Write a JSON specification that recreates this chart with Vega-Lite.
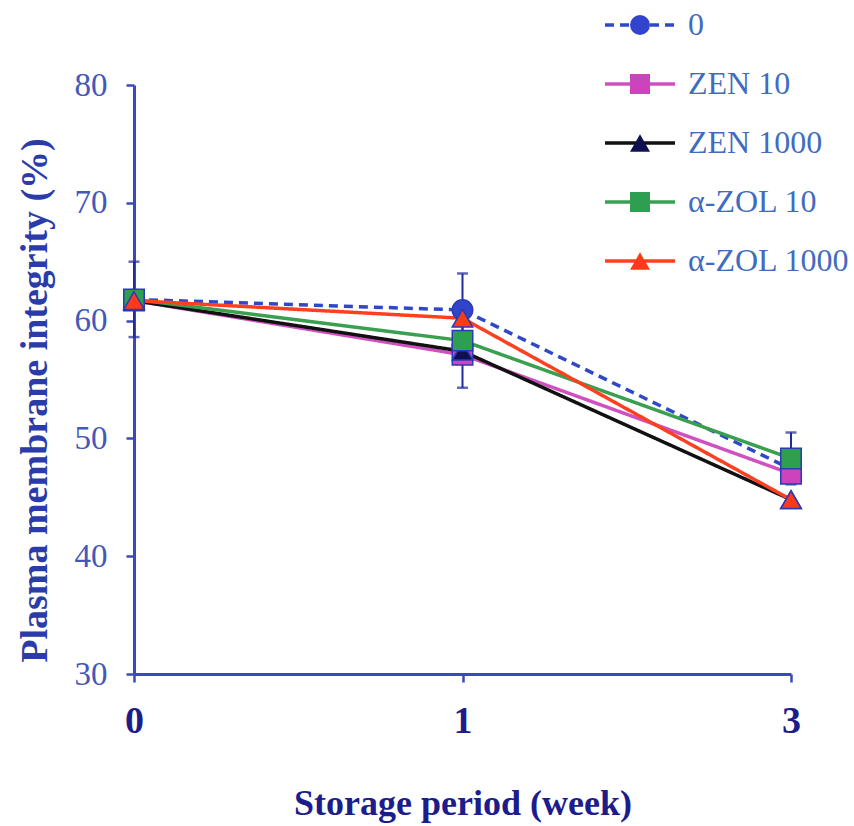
{
  "$schema": "https://vega.github.io/schema/vega-lite/v6.json",
  "width": 657,
  "height": 589,
  "autosize": {"type": "none"},
  "padding": {"left": 134, "top": 85, "right": 63, "bottom": 152},
  "background": "white",
  "config": {"view": {"stroke": null}, "font": "Liberation Serif"},
  "data": {
    "values": [
      {"group": "0", "week": "0", "value": 61.8, "lo": 58.6, "hi": 65.0},
      {"group": "0", "week": "1", "value": 60.9, "lo": 57.8, "hi": 64.0},
      {"group": "0", "week": "3", "value": 47.4, "lo": null, "hi": null},
      {"group": "ZEN 10", "week": "0", "value": 61.7, "lo": null, "hi": null},
      {"group": "ZEN 10", "week": "1", "value": 57.1, "lo": null, "hi": null},
      {"group": "ZEN 10", "week": "3", "value": 47.0, "lo": null, "hi": null},
      {"group": "ZEN 1000", "week": "0", "value": 61.7, "lo": null, "hi": null},
      {"group": "ZEN 1000", "week": "1", "value": 57.4, "lo": 54.3, "hi": 60.5},
      {"group": "ZEN 1000", "week": "3", "value": 44.8, "lo": null, "hi": null},
      {"group": "α-ZOL 10", "week": "0", "value": 61.8, "lo": null, "hi": null},
      {"group": "α-ZOL 10", "week": "1", "value": 58.3, "lo": null, "hi": null},
      {"group": "α-ZOL 10", "week": "3", "value": 48.3, "lo": 46.1, "hi": 50.5},
      {"group": "α-ZOL 1000", "week": "0", "value": 61.7, "lo": null, "hi": null},
      {"group": "α-ZOL 1000", "week": "1", "value": 60.2, "lo": null, "hi": null},
      {"group": "α-ZOL 1000", "week": "3", "value": 44.8, "lo": null, "hi": null}
    ]
  },
  "encoding": {
    "x": {
      "field": "week",
      "type": "ordinal",
      "sort": ["0", "1", "3"],
      "scale": {"type": "point", "padding": 0},
      "axis": {
        "title": "Storage period (week)",
        "labelFont": "Liberation Serif",
        "labelFontSize": 38,
        "labelFontWeight": "bold",
        "labelColor": "#1c1c8c",
        "labelAngle": 0,
        "labelPadding": 20,
        "tickSize": 8,
        "tickWidth": 2.5,
        "tickColor": "#3a48c0",
        "domainColor": "#3a48c0",
        "domainWidth": 3,
        "titleFont": "Liberation Serif",
        "titleFontSize": 36,
        "titleFontWeight": "bold",
        "titleColor": "#1c1c8c",
        "titlePadding": 46,
        "grid": false
      }
    }
  },
  "layer": [
    {
      "mark": {"type": "line"},
      "encoding": {
        "y": {
          "field": "value",
          "type": "quantitative",
          "scale": {"domain": [30, 80], "nice": false, "zero": false},
          "axis": {
            "title": "Plasma membrane integrity (%)",
            "values": [30, 40, 50, 60, 70, 80],
            "labelFont": "Liberation Serif",
            "labelFontSize": 33,
            "labelColor": "#4358b8",
            "labelPadding": 19,
            "tickSize": 8,
            "tickWidth": 2.5,
            "tickColor": "#3a48c0",
            "domainColor": "#3a48c0",
            "domainWidth": 3,
            "titleFont": "Liberation Serif",
            "titleFontSize": 38,
            "titleFontWeight": "bold",
            "titleColor": "#2b3caa",
            "titlePadding": 20,
            "titleY": 315,
            "grid": false
          }
        },
        "color": {
          "field": "group",
          "type": "nominal",
          "scale": {
            "domain": ["0", "ZEN 10", "ZEN 1000", "α-ZOL 10", "α-ZOL 1000"],
            "range": ["#3048c8", "#d050c0", "#111111", "#3aa050", "#ff4020"]
          },
          "legend": {
            "orient": "none", "legendX": 490, "legendY": -76, "title": null,
            "symbolType": "M-3.5,0H3.5", "symbolSize": 400, "symbolStrokeWidth": 4.5,
            "labelFont": "Liberation Serif", "labelFontSize": 32, "labelColor": "#3f6cc0",
            "labelOffset": 32, "rowPadding": 27, "labelLimit": 300
          }
        },
        "strokeDash": {
          "field": "group",
          "type": "nominal",
          "scale": {
            "domain": ["0", "ZEN 10", "ZEN 1000", "α-ZOL 10", "α-ZOL 1000"],
            "range": [[9, 6], [1, 0], [1, 0], [1, 0], [1, 0]]
          },
          "legend": {
            "orient": "none", "legendX": 490, "legendY": -76, "title": null,
            "symbolType": "M-3.5,0H3.5", "symbolSize": 400, "symbolStrokeWidth": 4.5,
            "labelFont": "Liberation Serif", "labelFontSize": 32, "labelColor": "#3f6cc0",
            "labelOffset": 32, "rowPadding": 27, "labelLimit": 300
          }
        },
        "strokeWidth": {
          "field": "group",
          "type": "ordinal",
          "scale": {
            "domain": ["0", "ZEN 10", "ZEN 1000", "α-ZOL 10", "α-ZOL 1000"],
            "range": [3.5, 3.5, 5, 3.5, 3.5]
          },
          "legend": null
        }
      }
    },
    {
      "transform": [{"filter": "isValid(datum.hi)"}],
      "mark": {"type": "rule", "color": "#1f2a9c", "strokeWidth": 2},
      "encoding": {
        "y": {"field": "lo", "type": "quantitative"},
        "y2": {"field": "hi"}
      }
    },
    {
      "transform": [{"filter": "isValid(datum.hi)"}],
      "mark": {"type": "tick", "orient": "horizontal", "size": 11, "thickness": 2.5, "color": "#1f2a9c"},
      "encoding": {"y": {"field": "hi", "type": "quantitative"}}
    },
    {
      "transform": [{"filter": "isValid(datum.lo)"}],
      "mark": {"type": "tick", "orient": "horizontal", "size": 11, "thickness": 2.5, "color": "#1f2a9c"},
      "encoding": {"y": {"field": "lo", "type": "quantitative"}}
    },
    {
      "mark": {"type": "point", "filled": true, "size": 420, "stroke": "#2a3ab5", "strokeWidth": 1.5, "opacity": 1},
      "encoding": {
        "y": {"field": "value", "type": "quantitative"},
        "shape": {
          "field": "group",
          "type": "nominal",
          "scale": {"range": ["circle", "square", "triangle-up", "square", "triangle-up"]},
          "legend": {
            "orient": "none", "legendX": 490, "legendY": -76, "title": null,
            "symbolSize": 400, "symbolStrokeColor": "#2a3ab5", "symbolStrokeWidth": 1.5,
            "labelFont": "Liberation Serif", "labelFontSize": 32, "labelOpacity": 0,
            "labelOffset": 32, "rowPadding": 27, "labelLimit": 300
          }
        },
        "fill": {
          "field": "group",
          "type": "nominal",
          "scale": {"range": ["#3344cc", "#cc44bb", "#101050", "#2e9e50", "#ff3a1a"]},
          "legend": {
            "orient": "none", "legendX": 490, "legendY": -76, "title": null,
            "symbolSize": 400, "symbolStrokeColor": "#2a3ab5", "symbolStrokeWidth": 1.5,
            "labelFont": "Liberation Serif", "labelFontSize": 32, "labelOpacity": 0,
            "labelOffset": 32, "rowPadding": 27, "labelLimit": 300
          }
        }
      }
    }
  ]
}
